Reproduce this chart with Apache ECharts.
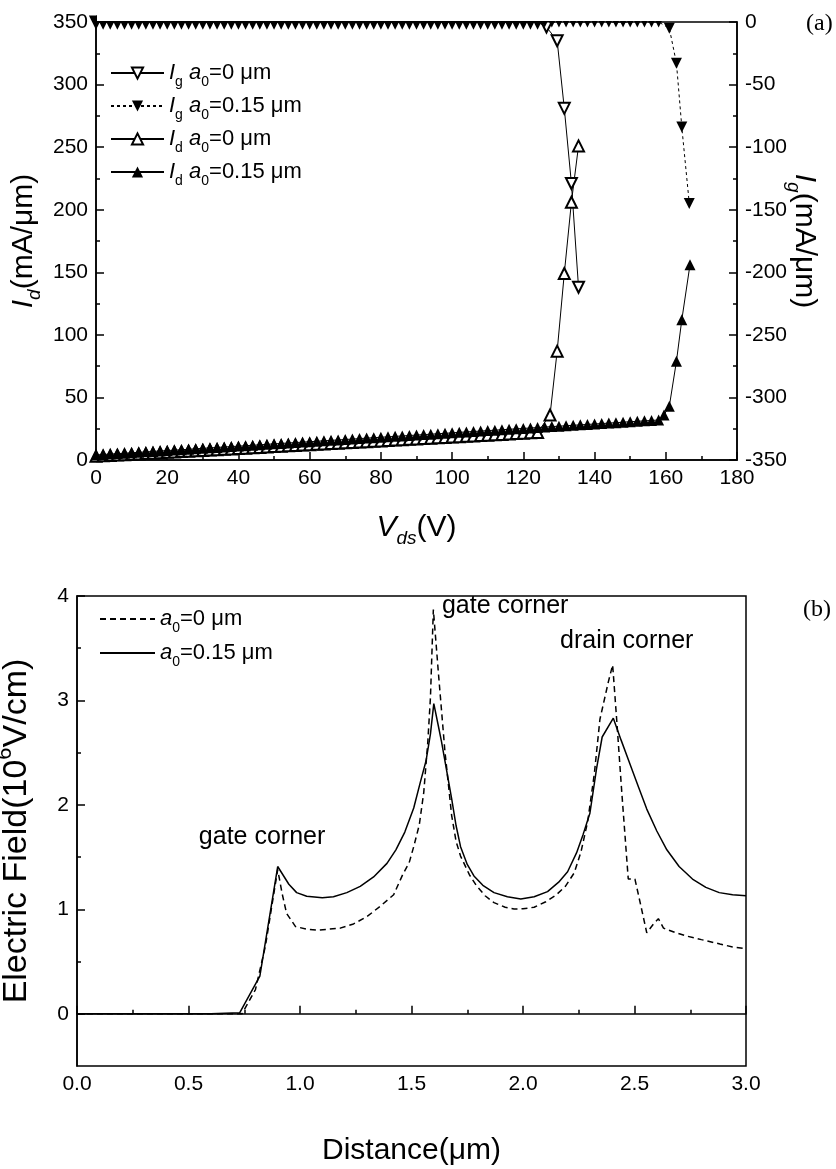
<!DOCTYPE html>
<html><head><meta charset="utf-8">
<script src="https://cdn.jsdelivr.net/npm/echarts@6/dist/echarts.min.js"></script>
<style>html,body{margin:0;padding:0;background:#fff}#c{width:836px;height:1169px}</style>
</head><body><div id="c"></div>
<script>
// ---------- Panel (a): Id / Ig vs Vds ----------
const vdsIg0 = [0,2,4,6,8,10,12,14,16,18,20,22,24,26,28,30,32,34,36,38,40,42,44,46,48,50,52,54,56,58,60,62,64,66,68,70,72,74,76,78,80,82,84,86,88,90,92,94,96,98,100,102,104,106,108,110,112,114,116,118,120,122,124,126.5,129.5,131.5,133.5,135.5];
const ig0 = [0,0,0,0,0,0,0,0,0,0,0,0,0,0,0,0,0,0,0,0,0,0,0,0,0,0,0,0,0,0,0,0,0,0,0,0,0,0,0,0,0,0,0,0,0,0,0,0,0,0,0,0,0,0,0,0,0,0,0,0,0,0,0,-4,-15,-69,-129,-212];
const vdsIg015 = [0,2,4,6,8,10,12,14,16,18,20,22,24,26,28,30,32,34,36,38,40,42,44,46,48,50,52,54,56,58,60,62,64,66,68,70,72,74,76,78,80,82,84,86,88,90,92,94,96,98,100,102,104,106,108,110,112,114,116,118,120,122,124,126,128,130,132,134,136,138,140,142,144,146,148,150,152,154,156,158,161,163,164.5,166.6];
const ig015 = [0,0,0,0,0,0,0,0,0,0,0,0,0,0,0,0,0,0,0,0,0,0,0,0,0,0,0,0,0,0,0,0,0,0,0,0,0,0,0,0,0,0,0,0,0,0,0,0,0,0,0,0,0,0,0,0,0,0,0,0,0,0,0,0,0,0,0,0,0,0,0,0,0,0,0,0,0,0,0,0,-5,-33,-84,-145];
const vdsId0 = [0,2,4,6,8,10,12,14,16,18,20,22,24,26,28,30,32,34,36,38,40,42,44,46,48,50,52,54,56,58,60,62,64,66,68,70,72,74,76,78,80,82,84,86,88,90,92,94,96,98,100,102,104,106,108,110,112,114,116,118,120,122,124,127.5,129.5,131.5,133.5,135.5];
const id0 = [3.0,3.3,3.6,3.9,4.2,4.5,4.8,5.1,5.4,5.8,6.1,6.4,6.7,7.0,7.3,7.6,7.9,8.2,8.5,8.8,9.1,9.4,9.7,10.0,10.3,10.7,11.0,11.3,11.6,11.9,12.2,12.5,12.8,13.1,13.4,13.7,14.0,14.3,14.6,14.9,15.2,15.5,15.9,16.2,16.5,16.8,17.1,17.4,17.7,18.0,18.3,18.6,18.9,19.2,19.5,19.8,20.1,20.4,20.7,21.1,21.4,21.7,22.0,36,87,149,206,251];
const vdsId015 = [0,2,4,6,8,10,12,14,16,18,20,22,24,26,28,30,32,34,36,38,40,42,44,46,48,50,52,54,56,58,60,62,64,66,68,70,72,74,76,78,80,82,84,86,88,90,92,94,96,98,100,102,104,106,108,110,112,114,116,118,120,122,124,126,128,130,132,134,136,138,140,142,144,146,148,150,152,154,156,158,159.5,161,163,164.5,166.8];
const id015 = [4.0,4.4,4.7,5.1,5.4,5.8,6.1,6.5,6.8,7.2,7.5,7.9,8.2,8.6,9.0,9.3,9.7,10.0,10.4,10.7,11.1,11.4,11.8,12.1,12.5,12.9,13.2,13.6,13.9,14.3,14.6,15.0,15.3,15.7,16.0,16.4,16.7,17.1,17.5,17.8,18.2,18.5,18.9,19.2,19.6,19.9,20.3,20.6,21.0,21.3,21.7,22.1,22.4,22.8,23.1,23.5,23.8,24.2,24.5,24.9,25.2,25.6,25.9,26.3,26.7,27.0,27.4,27.7,28.1,28.4,28.8,29.1,29.5,29.8,30.2,30.6,30.9,31.3,31.6,32.0,36,43,79,112,156];

// ---------- Panel (b): Electric field vs distance ----------
const distA0 = [0,0.74,0.80,0.845,0.875,0.90,0.92,0.94,0.98,1.03,1.08,1.13,1.18,1.24,1.30,1.36,1.42,1.46,1.49,1.51,1.535,1.555,1.573,1.585,1.598,1.61,1.62,1.65,1.68,1.70,1.72,1.76,1.79,1.83,1.87,1.92,1.96,2.00,2.05,2.10,2.15,2.19,2.23,2.26,2.29,2.32,2.345,2.383,2.402,2.42,2.443,2.472,2.502,2.53,2.555,2.585,2.607,2.63,2.68,2.734,2.80,2.883,2.94,3.0];
const efA0 = [0,0,0.23,0.65,1.05,1.38,1.15,0.96,0.835,0.81,0.80,0.81,0.82,0.86,0.93,1.03,1.14,1.33,1.45,1.60,1.81,2.12,2.60,3.03,3.87,3.55,3.28,2.51,1.90,1.65,1.51,1.33,1.23,1.13,1.064,1.02,1.004,1.005,1.02,1.07,1.14,1.22,1.35,1.55,1.84,2.30,2.82,3.18,3.34,2.82,2.12,1.29,1.29,1.02,0.775,0.86,0.91,0.82,0.78,0.744,0.71,0.668,0.64,0.622];
const distA15 = [0,0.6,0.73,0.82,0.90,0.95,0.985,1.03,1.10,1.15,1.21,1.27,1.33,1.39,1.43,1.47,1.51,1.54,1.565,1.585,1.60,1.62,1.635,1.66,1.68,1.70,1.72,1.75,1.78,1.82,1.87,1.93,1.99,2.05,2.11,2.16,2.20,2.24,2.27,2.30,2.33,2.355,2.405,2.44,2.48,2.52,2.555,2.60,2.645,2.70,2.76,2.82,2.88,2.94,3.0];
const efA15 = [0,0,0.01,0.36,1.41,1.24,1.16,1.125,1.11,1.12,1.16,1.22,1.31,1.44,1.57,1.74,1.97,2.22,2.42,2.68,2.97,2.76,2.60,2.30,2.06,1.80,1.60,1.43,1.32,1.23,1.16,1.12,1.10,1.12,1.17,1.26,1.36,1.54,1.72,1.92,2.35,2.65,2.83,2.62,2.39,2.16,1.96,1.75,1.57,1.41,1.29,1.21,1.16,1.14,1.13];
const annotations = [
  {text: 'gate corner', d: 0.83, e: 1.69},
  {text: 'gate corner', d: 1.92, e: 3.90},
  {text: 'drain corner', d: 2.465, e: 3.57}
];

// tick labels
const yTicksB = [0, 1, 2, 3, 4];
const yMinorTicksB = [0.5, 1.5, 2.5, 3.5];

const pairs = (xs, ys) => xs.map((x, i) => [x, ys[i]]);
const FONT = '"Liberation Sans", Arial, sans-serif';
const NARROW = '"Liberation Sans Narrow", "Arial Narrow", "Liberation Sans", sans-serif';
const BLACK = '#000';

const mkTitleRich = (fs) => ({
  n: {fontSize: fs, fontFamily: FONT, color: BLACK, lineHeight: Math.round(fs * 1.35)},
  i: {fontSize: fs, fontFamily: FONT, color: BLACK, lineHeight: Math.round(fs * 1.35), fontStyle: 'italic'},
  si: {fontSize: Math.round(fs * 0.64), fontFamily: FONT, color: BLACK, lineHeight: Math.round(fs * 0.5), fontStyle: 'italic', verticalAlign: 'bottom'},
  sup: {fontSize: Math.round(fs * 0.64), fontFamily: FONT, color: BLACK, lineHeight: Math.round(fs * 0.5), verticalAlign: 'top'}
});
const titleRich = mkTitleRich(30);
const efRich = mkTitleRich(34);
const legRich = {
  n: {fontSize: 22, fontFamily: FONT, color: BLACK, lineHeight: 32},
  i: {fontSize: 22, fontFamily: FONT, color: BLACK, lineHeight: 32, fontStyle: 'italic'},
  s: {fontSize: 14, fontFamily: FONT, color: BLACK, lineHeight: 12, verticalAlign: 'bottom'}
};
const legendText = {
  Ig0: '{i|I}{s|g}{n| }{i|a}{s|0}{n|=0 μm}',
  Ig015: '{i|I}{s|g}{n| }{i|a}{s|0}{n|=0.15 μm}',
  Id0: '{i|I}{s|d}{n| }{i|a}{s|0}{n|=0 μm}',
  Id015: '{i|I}{s|d}{n| }{i|a}{s|0}{n|=0.15 μm}',
  B0: '{i|a}{s|0}{n|=0 μm}',
  B15: '{i|a}{s|0}{n|=0.15 μm}'
};

const lineAx = {lineStyle: {color: BLACK, width: 1.5}};
const tickAx = (len) => ({inside: true, length: len, lineStyle: {color: BLACK, width: 1.5}});
const minorAx = {show: true, splitNumber: 2, length: 4, lineStyle: {color: BLACK, width: 1.5}};
const labelAx = (extra) => Object.assign({color: BLACK, fontSize: 21, fontFamily: NARROW, margin: 8}, extra || {});

const chart = echarts.init(document.getElementById('c'), null, {renderer: 'canvas'});
chart.setOption({
  animation: false,
  backgroundColor: '#fff',
  grid: [
    {left: 96, top: 22, width: 641, height: 438, show: true, borderColor: BLACK, borderWidth: 1.5,
     backgroundColor: 'transparent', outerBoundsMode: 'none', containLabel: false},
    {left: 77, top: 596, width: 669, height: 470, show: true, borderColor: BLACK, borderWidth: 1.5,
     backgroundColor: 'transparent', outerBoundsMode: 'none', containLabel: false}
  ],
  xAxis: [
    {gridIndex: 0, type: 'value', min: 0, max: 180, interval: 20,
     axisLine: lineAx, axisTick: tickAx(8), minorTick: minorAx, splitLine: {show: false},
     axisLabel: labelAx(),
     name: '{i|V}{si|ds}{n|(V)}', nameLocation: 'middle', nameGap: 47, nameMoveOverlap: false,
     nameTextStyle: {rich: titleRich}},
    {gridIndex: 1, type: 'value', min: 0, max: 3, interval: 0.5,
     axisLine: lineAx, axisTick: tickAx(8), minorTick: minorAx, splitLine: {show: false},
     axisLabel: labelAx({formatter: v => v.toFixed(1)}),
     name: '{n|Distance(μm)}', nameLocation: 'middle', nameGap: 64, nameMoveOverlap: false,
     nameTextStyle: {rich: titleRich}}
  ],
  yAxis: [
    {gridIndex: 0, type: 'value', position: 'left', min: 0, max: 350, interval: 50,
     axisLine: lineAx, axisTick: tickAx(8), minorTick: minorAx, splitLine: {show: false},
     axisLabel: labelAx(),
     name: '{i|I}{si|d}{n|(mA/μm)}', nameLocation: 'middle', nameGap: 52, nameMoveOverlap: false,
     nameTextStyle: {rich: titleRich}},
    {gridIndex: 0, type: 'value', position: 'right', min: -350, max: 0, interval: 50,
     axisLine: lineAx, axisTick: tickAx(8), minorTick: minorAx, splitLine: {show: false},
     axisLabel: labelAx(),
     name: '{i|I}{si|g}{n|(mA/μm)}', nameLocation: 'middle', nameGap: 47, nameRotate: -90, nameMoveOverlap: false,
     nameTextStyle: {rich: titleRich}},
    {gridIndex: 1, type: 'value', position: 'left', min: -0.5, max: 4,
     axisLine: lineAx, axisTick: Object.assign(tickAx(8), {customValues: yTicksB}), splitLine: {show: false},
     axisLabel: labelAx({customValues: yTicksB}),
     name: '{n|Electric Field(10}{sup|6}{n|V/cm)}', nameLocation: 'middle', nameGap: 37, nameMoveOverlap: false,
     nameTextStyle: {rich: efRich}},
    {gridIndex: 1, type: 'value', position: 'left', min: -0.5, max: 4,
     axisLine: {show: false}, axisLabel: {show: false}, splitLine: {show: false},
     axisTick: Object.assign(tickAx(4), {customValues: yMinorTicksB})}
  ],
  legend: [
    {data: ['Ig0', 'Ig015', 'Id0', 'Id015'], orient: 'vertical', left: 110, top: 62,
     itemWidth: 53, itemHeight: 14, itemGap: 6, padding: 0, selectedMode: false,
     formatter: n => legendText[n],
     textStyle: {color: BLACK, fontSize: 22, fontFamily: FONT, rich: legRich}},
    {data: ['B0', 'B15'], orient: 'vertical', left: 99, top: 608,
     itemWidth: 55, itemHeight: 14, itemGap: 7, padding: 0, selectedMode: false,
     itemStyle: {opacity: 0},
     formatter: n => legendText[n],
     textStyle: {color: BLACK, fontSize: 22, fontFamily: FONT, rich: legRich}}
  ],
  series: [
    {name: 'Ig0', type: 'line', xAxisIndex: 0, yAxisIndex: 1, data: pairs(vdsIg0, ig0),
     symbol: 'emptyTriangle', symbolRotate: 180, symbolSize: 11,
     lineStyle: {color: BLACK, width: 1}, itemStyle: {color: BLACK, borderWidth: 1}},
    {name: 'Ig015', type: 'line', xAxisIndex: 0, yAxisIndex: 1, data: pairs(vdsIg015, ig015),
     symbol: 'triangle', symbolRotate: 180, symbolSize: 11,
     lineStyle: {color: BLACK, width: 1, type: [3, 3]}, itemStyle: {color: BLACK}},
    {name: 'Id0', type: 'line', xAxisIndex: 0, yAxisIndex: 0, data: pairs(vdsId0, id0),
     symbol: 'emptyTriangle', symbolSize: 11,
     lineStyle: {color: BLACK, width: 1}, itemStyle: {color: BLACK, borderWidth: 1}},
    {name: 'Id015', type: 'line', xAxisIndex: 0, yAxisIndex: 0, data: pairs(vdsId015, id015),
     symbol: 'triangle', symbolSize: 11,
     lineStyle: {color: BLACK, width: 1}, itemStyle: {color: BLACK}},
    {name: 'B0', type: 'line', xAxisIndex: 1, yAxisIndex: 2, data: pairs(distA0, efA0),
     symbol: 'none', lineStyle: {color: BLACK, width: 1.5, type: [6, 4]}, itemStyle: {color: BLACK}},
    {name: 'B15', type: 'line', xAxisIndex: 1, yAxisIndex: 2, data: pairs(distA15, efA15),
     symbol: 'none', lineStyle: {color: BLACK, width: 1.5}, itemStyle: {color: BLACK},
     markPoint: {symbol: 'circle', symbolSize: 0, silent: true,
       label: {show: true, position: 'inside', color: BLACK, fontSize: 25, fontFamily: FONT, formatter: p => p.name},
       data: annotations.map(a => ({name: a.text, coord: [a.d, a.e]}))}}
  ],
  graphic: [
    {type: 'rect', z: 100, shape: {x: 97, y: 0, width: 639, height: 21}, style: {fill: '#fff'}},
    {type: 'text', z: 101, x: 806, y: 12, style: {text: '(a)', fontSize: 24, fontFamily: '"Liberation Serif", serif', fill: BLACK}},
    {type: 'text', z: 101, x: 803, y: 598, style: {text: '(b)', fontSize: 24, fontFamily: '"Liberation Serif", serif', fill: BLACK}}
  ]
});
</script>
</body></html>
